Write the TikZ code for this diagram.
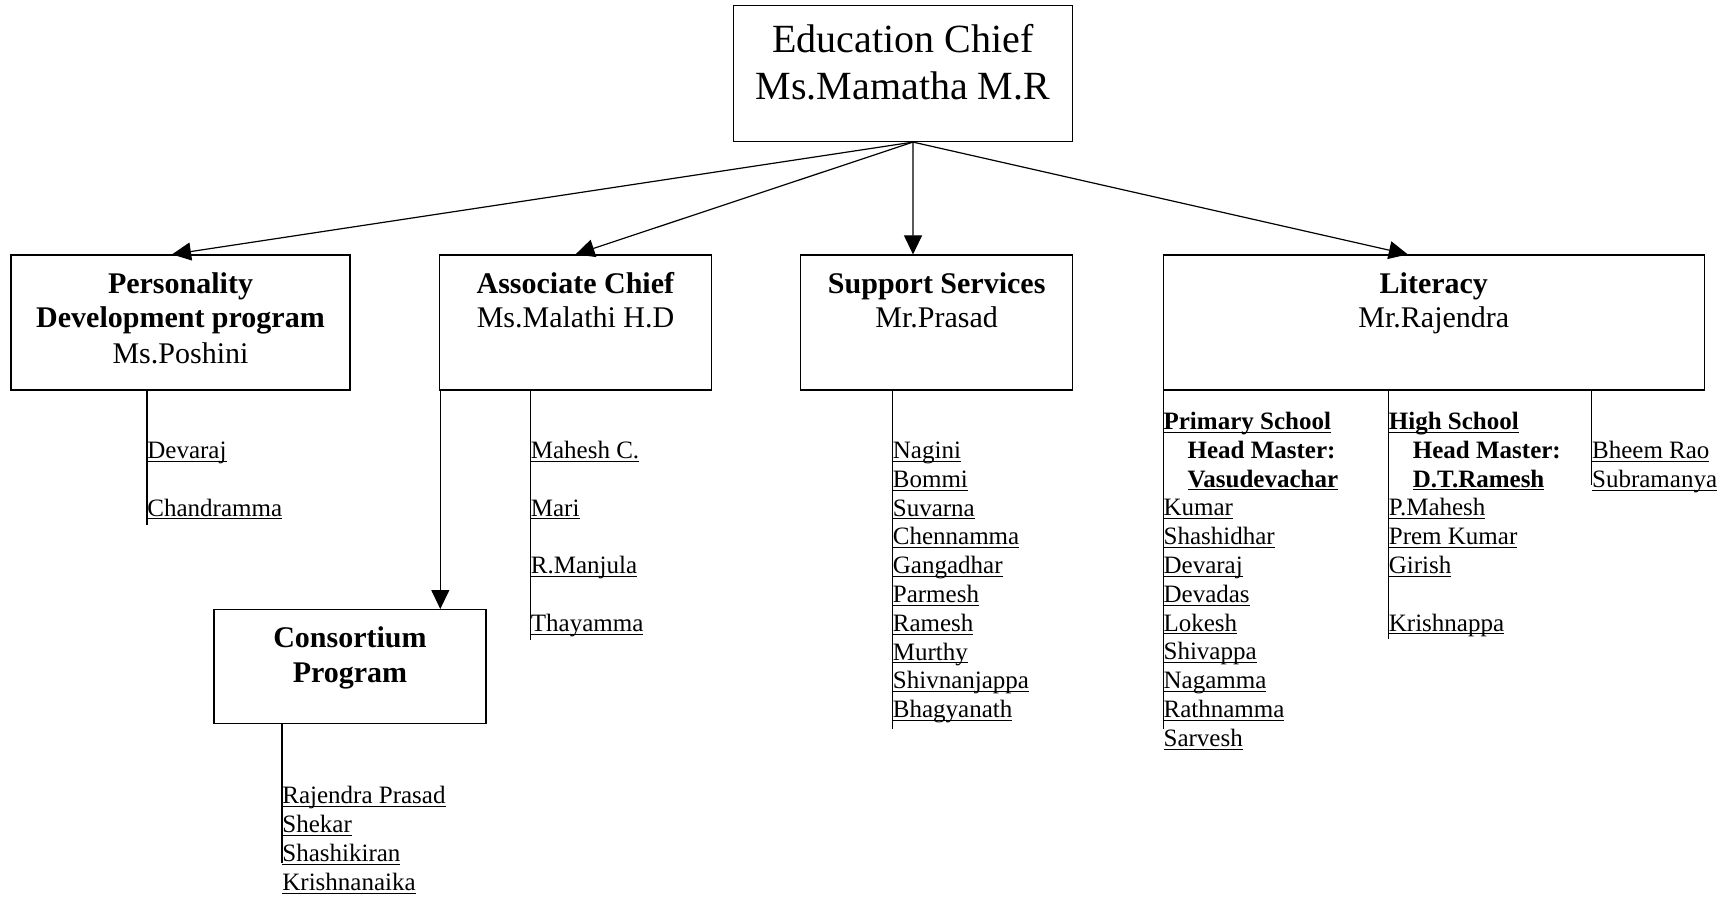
\documentclass[tikz,border=0pt]{standalone}
\usepackage{fontspec}
\setmainfont{Liberation Serif}
\usetikzlibrary{arrows.meta}

% underlined staff name, kept off the line height
\newcommand{\uname}[1]{\underline{\smash{#1}}}
% box text: width, height, first baseline, lines
\newcommand{\boxtext}[4]{\parbox[c][#2][t]{#1}{\centering\rule{0pt}{#3}#4}}

\begin{document}
\begin{tikzpicture}[
    x=0.5pt, y=-0.5pt,
    module/.style={rectangle, draw, inner sep=0pt, line width=0.6pt, font=\fontsize{15}{17.5}\selectfont},
    topmodule/.style={module, font=\fontsize{20}{23.5}\selectfont},
    names/.style={anchor=north west, inner sep=0pt, align=left, font=\fontsize{12.5}{14.4}\selectfont},
    arrow/.style={-{Triangle[length=9.5pt, width=9pt]}, line width=0.6pt},
    tie/.style={line width=0.6pt}
]
    \useasboundingbox (0,0) rectangle (1732,898);

    % Head
    \node[topmodule] (chief) at (903,73.5) {\boxtext{169.5pt}{68pt}{23.5pt}{Education Chief\\Ms.Mamatha M.R}};

    % Departments
    \node[module] (pdp) at (180.5,322.5) {\boxtext{169.5pt}{67.5pt}{19pt}{\textbf{Personality}\\\textbf{Development program}\\Ms.Poshini}};
    \node[module] (assoc) at (575.5,322.5) {\boxtext{136pt}{67.5pt}{19pt}{\textbf{Associate Chief}\\Ms.Malathi H.D}};
    \node[module] (supp) at (936.7,322.5) {\boxtext{136pt}{67.5pt}{19pt}{\textbf{Support Services}\\Mr.Prasad}};
    \node[module] (lit) at (1433.8,322.5) {\boxtext{270.5pt}{67.5pt}{19pt}{\textbf{Literacy}\\Mr.Rajendra}};
    \node[module] (cons) at (350,666.6) {\boxtext{136pt}{57pt}{19pt}{\textbf{Consortium}\\\textbf{Program}}};

    % Staff lists
    \node[names] (pdp_list) at (147,458) {\uname{Devaraj}\\ \mbox{}\\ \uname{Chandramma}};
    \node[names] (assoc_list) at (530.5,458) {\uname{Mahesh C.}\\ \mbox{}\\ \uname{Mari}\\ \mbox{}\\ \uname{R.Manjula}\\ \mbox{}\\ \uname{Thayamma}};
    \node[names] (cons_list) at (282,803.4) {\uname{Rajendra Prasad}\\ \uname{Shekar}\\ \uname{Shashikiran}\\ \uname{Krishnanaika}};
    \node[names] (supp_list) at (892.5,458) {\uname{Nagini}\\ \uname{Bommi}\\ \uname{Suvarna}\\ \uname{Chennamma}\\ \uname{Gangadhar}\\ \uname{Parmesh}\\ \uname{Ramesh}\\ \uname{Murthy}\\ \uname{Shivnanjappa}\\ \uname{Bhagyanath}};
    \node[names] (prim_list) at (1163.2,429) {\uname{\textbf{Primary School}}\\ \hspace*{12pt}\textbf{Head Master:}\\ \hspace*{12pt}\uname{\textbf{Vasudevachar}}\\ \uname{Kumar}\\ \uname{Shashidhar}\\ \uname{Devaraj}\\ \uname{Devadas}\\ \uname{Lokesh}\\ \uname{Shivappa}\\ \uname{Nagamma}\\ \uname{Rathnamma}\\ \uname{Sarvesh}};
    \node[names] (high_list) at (1388.5,429) {\uname{\textbf{High School}}\\ \hspace*{12pt}\textbf{Head Master:}\\ \hspace*{12pt}\uname{\textbf{D.T.Ramesh}}\\ \uname{P.Mahesh}\\ \uname{Prem Kumar}\\ \uname{Girish}\\ \mbox{}\\ \uname{Krishnappa}};
    \node[names] (oth_list) at (1591.7,458) {\uname{Bheem Rao}\\ \uname{Subramanya}};

    % Connections
    \coordinate (drop) at ([xshift=0.7pt]assoc.south west);
    \draw[arrow] ([xshift=5pt]chief.south) -- ([xshift=-4.25pt]pdp.north);
    \draw[arrow] ([xshift=5pt]chief.south) -- (assoc.north);
    \draw[arrow] ([xshift=5pt]chief.south) -- ([xshift=-11.85pt]supp.north);
    \draw[arrow] ([xshift=5pt]chief.south) -- ([xshift=-13pt]lit.north);
    \draw[arrow] (drop) -- (drop |- cons.north);

    \draw[tie] (pdp.south -| pdp_list.west) -- ([yshift=-2.5pt]pdp_list.south west);
    \draw[tie] (assoc.south -| assoc_list.west) -- ([yshift=-2pt]assoc_list.south west);
    \draw[tie] (cons.south -| cons_list.west) -- ([yshift=16pt]cons_list.south west);
    \draw[tie] (supp.south -| supp_list.west) -- ([yshift=-3.5pt]supp_list.south west);
    \draw[tie] (lit.south -| prim_list.west) -- ([yshift=11pt]prim_list.south west);
    \draw[tie] (lit.south -| high_list.west) -- ([yshift=-2pt]high_list.south west);
    \draw[tie] (lit.south -| oth_list.west) -- ([yshift=3.3pt]oth_list.south west);
\end{tikzpicture}
\end{document}
